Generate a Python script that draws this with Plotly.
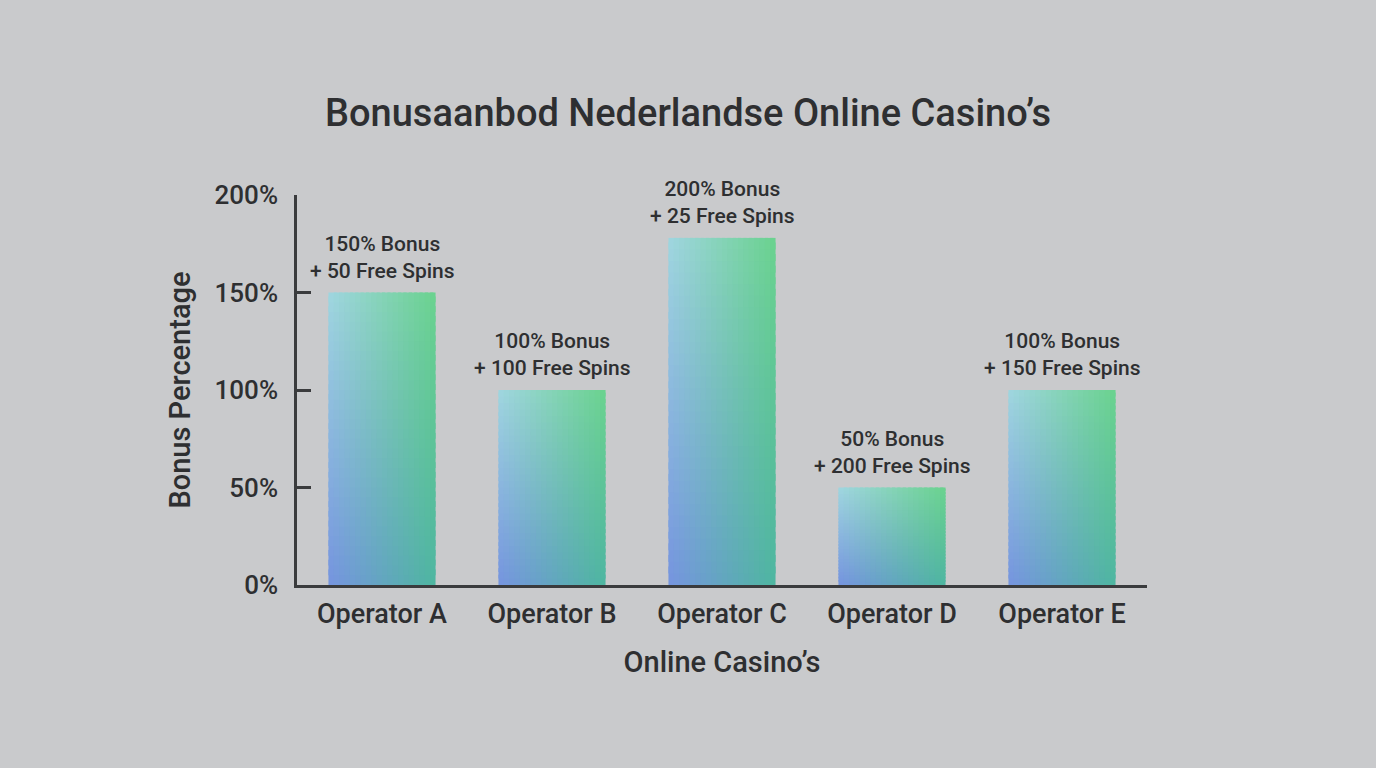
import plotly.graph_objects as go

# ---- data ----
operators = ["Operator A", "Operator B", "Operator C", "Operator D", "Operator E"]
bonus_pct = [150, 100, 178, 50, 100]
offer_labels = [
    "150% Bonus<br>+ 50 Free Spins",
    "100% Bonus<br>+ 100 Free Spins",
    "200% Bonus<br>+ 25 Free Spins",
    "50% Bonus<br>+ 200 Free Spins",
    "100% Bonus<br>+ 150 Free Spins",
]
y_ticks = [0, 50, 100, 150, 200]
y_tick_text = ["0%", "50%", "100%", "150%", "200%"]

# ---- style ----
FONT = "Roboto"
TXT = "#2e2f31"
BG = "#c9cacc"
BAR_W = 0.63
NCOL, NROW = 20, 30

# corner colours of the gradient (bottom-left, bottom-right, top-left, top-right)
BL = (118, 148, 224)
BR = (78, 182, 160)
TL = (160, 214, 224)
TR = (106, 210, 142)


def mix(a, b, t):
    return tuple(a[k] + (b[k] - a[k]) * t for k in range(3))


def rgb(c):
    return "rgb(%d,%d,%d)" % tuple(int(round(v)) for v in c)


fig = go.Figure()
strip = BAR_W / NCOL
for i in range(NCOL):
    tx = (i + 0.5) / NCOL
    for j in range(NROW):
        ty = (j + 0.5) / NROW
        bottom = mix(BL, BR, tx)
        top = mix(TL, TR, tx)
        col = mix(bottom, top, ty)
        hgt = 1.0 / NROW if j == NROW - 1 else 1.6 / NROW
        fig.add_trace(go.Bar(
            x=operators,
            y=[v * hgt for v in bonus_pct],
            base=[v * j / NROW for v in bonus_pct],
            width=strip * (1.0 if i == NCOL - 1 else 1.6),
            offset=-BAR_W / 2 + i * strip,
            marker=dict(color=rgb(col), line=dict(width=0)),
            hoverinfo="skip",
            showlegend=False,
        ))

for op, v, lab in zip(operators, bonus_pct, offer_labels):
    fig.add_annotation(
        x=op, y=v, text=lab, showarrow=False,
        yanchor="bottom", yshift=8,
        font=dict(family=FONT, size=21, color=TXT, weight=500),
    )

fig.update_layout(
    width=1376, height=768,
    paper_bgcolor=BG, plot_bgcolor=BG,
    barmode="overlay",
    margin=dict(l=297, r=229, t=195, b=183),
    title=dict(
        text="Bonusaanbod Nederlandse Online Casino’s",
        x=0.5, xanchor="center", y=1 - 113 / 768, yanchor="middle",
        font=dict(family=FONT, size=38, color=TXT, weight=500),
    ),
    font=dict(family=FONT, color=TXT),
)

fig.update_xaxes(
    range=[-0.5, 4.5],
    showline=True, linecolor="#3a3b3d", linewidth=2.5,
    ticks="", showgrid=False, zeroline=False,
    tickfont=dict(family=FONT, size=27, color=TXT, weight=500),
    ticklabelstandoff=3,
    title=dict(text="Online Casino’s", standoff=23,
               font=dict(family=FONT, size=29, color=TXT, weight=500)),
)
fig.update_yaxes(
    range=[0, 200],
    showline=True, linecolor="#3a3b3d", linewidth=2.5,
    ticks="inside", ticklen=14, tickwidth=2.5, tickcolor="#3a3b3d",
    tickvals=y_ticks, ticktext=y_tick_text,
    showgrid=False, zeroline=False,
    tickfont=dict(family=FONT, size=26, color=TXT, weight=500),
    ticklabelstandoff=11,
    title=dict(text="Bonus Percentage", standoff=16,
               font=dict(family=FONT, size=29, color=TXT, weight=500)),
)

fig.write_html(
    "out.html",
    config={"displayModeBar": False},
    post_script="document.body.style.margin='0';document.body.style.overflow='hidden';",
)
